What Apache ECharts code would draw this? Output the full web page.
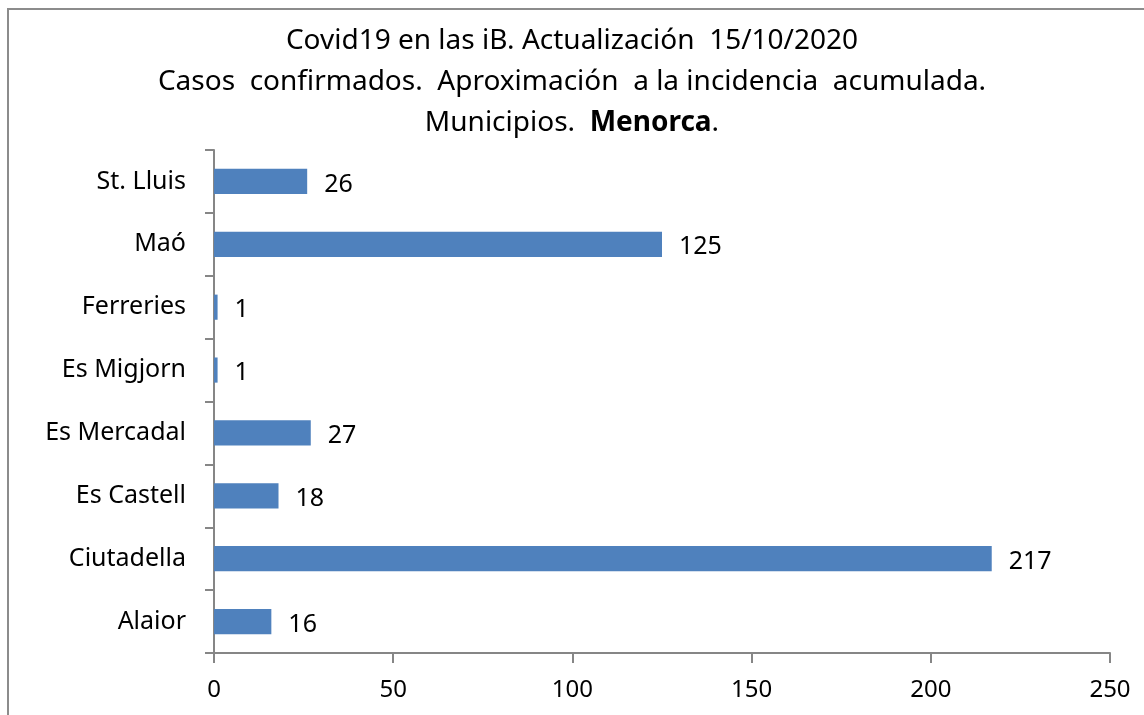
<!DOCTYPE html>
<html>
<head>
<meta charset="utf-8">
<script src="https://cdn.jsdelivr.net/npm/echarts@6/dist/echarts.min.js"></script>
<style>
  html, body { margin: 0; padding: 0; background: #fff; }
  #chartsbox { width: 1144px; height: 715px; }
</style>
</head>
<body>
<div id="chartsbox"></div>
<script>
// datos (de abajo a arriba)
var municipios = ['Alaior', 'Ciutadella', 'Es Castell', 'Es Mercadal', 'Es Migjorn', 'Ferreries', 'Maó', 'St. Lluis'];
var casos = [16, 217, 18, 27, 1, 1, 125, 26];
var xMin = 0, xMax = 250, xPaso = 50;

var fuente = '"Noto Sans", "Open Sans", sans-serif';
var gris = '#868686';

var myChart = echarts.init(document.getElementById('chartsbox'));
var option = {
    animation: false,
    backgroundColor: '#fff',
    textStyle: { fontFamily: fuente },
    graphic: [{
        type: 'rect',
        shape: { x: 8, y: 9, width: 1160, height: 740 },
        style: { fill: 'none', stroke: '#8c8c8c', lineWidth: 2 }
    }],
    title: {
        left: 'center',
        top: 16,
        text: '{a|Covid19 en las iB. Actualización  15/10/2020}\n' +
              '{a|Casos  confirmados.  Aproximación  a la incidencia  acumulada.}\n' +
              '{a|Municipios.  }{b|Menorca}{a|.}',
        textStyle: {
            fontWeight: 'normal',
            rich: {
                a: { fontFamily: fuente, fontSize: 28, fontWeight: 'normal', color: '#000', lineHeight: 41 },
                b: { fontFamily: fuente, fontSize: 28, fontWeight: 'bold', color: '#000', lineHeight: 41 }
            }
        }
    },
    grid: { left: 214, right: 34, top: 150, bottom: 62 },
    xAxis: {
        type: 'value',
        min: xMin,
        max: xMax,
        interval: xPaso,
        splitLine: { show: false },
        axisLine: { show: true, lineStyle: { color: gris, width: 2 } },
        axisTick: { show: true, length: 10, lineStyle: { color: gris, width: 2 } },
        axisLabel: { color: '#000', fontSize: 24, fontFamily: fuente, margin: 25 }
    },
    yAxis: {
        type: 'category',
        data: municipios,
        axisLine: { show: true, lineStyle: { color: gris, width: 2 } },
        axisTick: { show: true, length: 9, lineStyle: { color: gris, width: 2 } },
        axisLabel: { color: '#000', fontSize: 25, fontFamily: fuente, margin: 28 }
    },
    series: [{
        name: 'Casos',
        type: 'bar',
        data: casos,
        barWidth: '40%',
        itemStyle: { color: '#4F81BD' },
        label: {
            show: true,
            position: 'right',
            distance: 17,
            offset: [0, 3],
            color: '#000',
            fontSize: 25,
            fontFamily: fuente
        }
    }]
};
myChart.setOption(option);
</script>
</body>
</html>
